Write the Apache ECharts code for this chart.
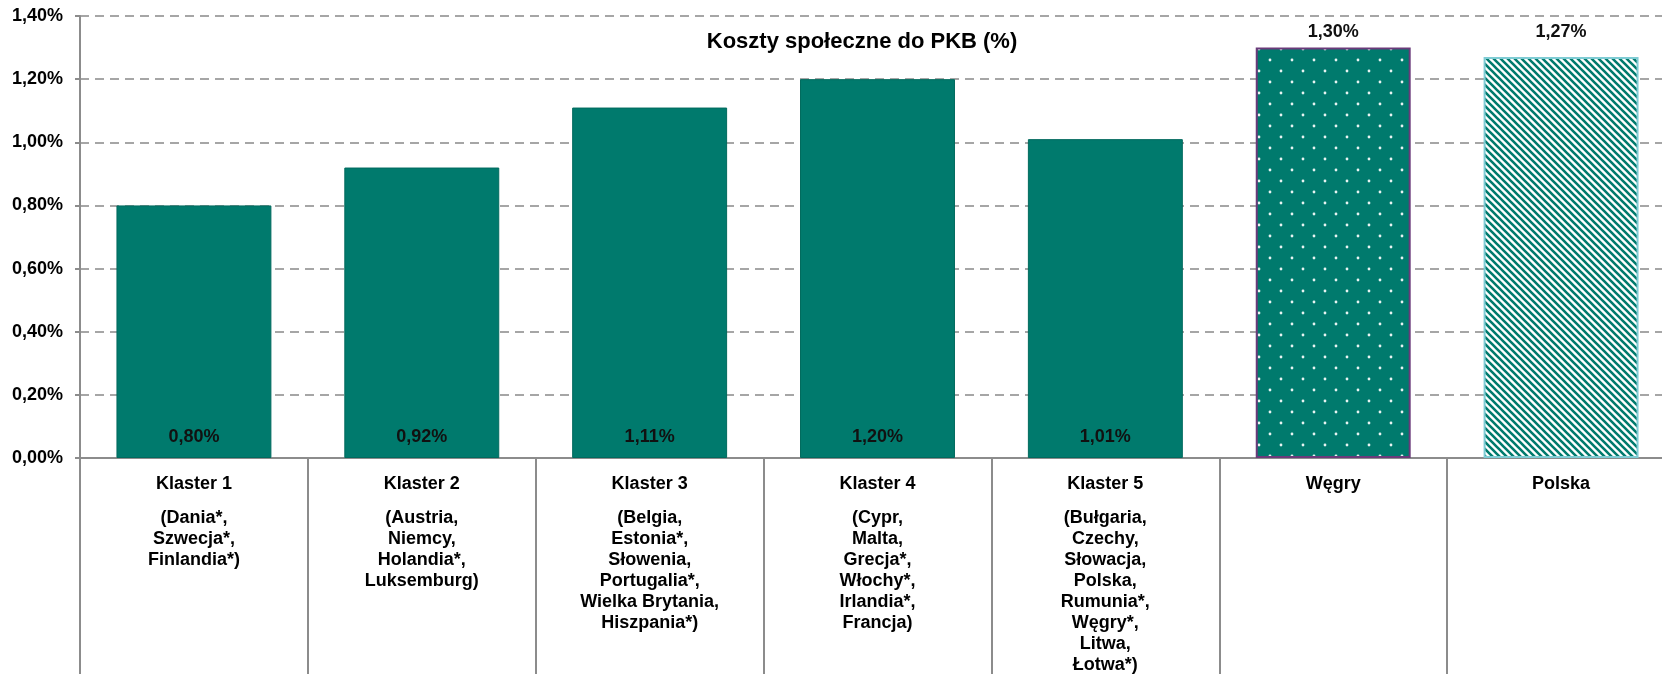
<!DOCTYPE html>
<html>
<head>
<meta charset="utf-8">
<script src="https://cdn.jsdelivr.net/npm/echarts@6/dist/echarts.min.js"></script>
<style>
  html, body { margin: 0; padding: 0; background: #fff; }
  #chart { width: 1662px; height: 674px; }
</style>
</head>
<body>
<div id="chart"></div>
<script>
const categories = ['Klaster 1', 'Klaster 2', 'Klaster 3', 'Klaster 4', 'Klaster 5', 'Węgry', 'Polska'];
const members = [
  ['(Dania*,', 'Szwecja*,', 'Finlandia*)'],
  ['(Austria,', 'Niemcy,', 'Holandia*,', 'Luksemburg)'],
  ['(Belgia,', 'Estonia*,', 'Słowenia,', 'Portugalia*,', 'Wielka Brytania,', 'Hiszpania*)'],
  ['(Cypr,', 'Malta,', 'Grecja*,', 'Włochy*,', 'Irlandia*,', 'Francja)'],
  ['(Bułgaria,', 'Czechy,', 'Słowacja,', 'Polska,', 'Rumunia*,', 'Węgry*,', 'Litwa,', 'Łotwa*)'],
  [],
  []
];
const values = [0.80, 0.92, 1.11, 1.20, 1.01, 1.30, 1.27];
const yTicks = [0, 0.2, 0.4, 0.6, 0.8, 1.0, 1.2, 1.4];

const FONT = 'Arial, "Liberation Sans", sans-serif';
const TEAL = '#007A6D';

// dotted fill for Węgry
function dotsPattern() {
  const c = document.createElement('canvas');
  c.width = 22; c.height = 22;
  const g = c.getContext('2d');
  g.fillStyle = TEAL;
  g.fillRect(0, 0, 22, 22);
  g.fillStyle = '#e8f4f2';
  [[5, 5], [16, 16]].forEach(function (p) {
    g.beginPath();
    g.arc(p[0], p[1], 1.4, 0, Math.PI * 2);
    g.fill();
  });
  return c;
}

// diagonal stripes for Polska
function stripesPattern() {
  const s = 7;
  const c = document.createElement('canvas');
  c.width = s; c.height = s;
  const g = c.getContext('2d');
  g.fillStyle = '#ffffff';
  g.fillRect(0, 0, s, s);
  g.strokeStyle = TEAL;
  g.lineWidth = 2.6;
  g.beginPath();
  g.moveTo(-1, -1); g.lineTo(s + 1, s + 1);
  g.moveTo(-1, s - 1); g.lineTo(1, s + 1);
  g.moveTo(s - 1, -1); g.lineTo(s + 1, 1);
  g.stroke();
  return c;
}

const fmt = v => v.toFixed(2).replace('.', ',') + '%';

const barData = values.map(function (v, i) {
  if (i === 5) {
    return {
      value: v,
      itemStyle: { color: { image: dotsPattern(), repeat: 'repeat' }, borderColor: '#6A3A7A', borderWidth: 2 },
      label: { position: 'top', distance: 7 }
    };
  }
  if (i === 6) {
    return {
      value: v,
      itemStyle: { color: { image: stripesPattern(), repeat: 'repeat' }, borderColor: '#7FCCD4', borderWidth: 2 },
      label: { position: 'top', distance: 16 }
    };
  }
  return { value: v };
});

const chart = echarts.init(document.getElementById('chart'));
chart.setOption({
  animation: false,
  title: {
    text: 'Koszty społeczne do PKB (%)',
    left: 857,
    top: 26,
    textAlign: 'center',
    textStyle: { fontFamily: FONT, fontSize: 22, fontWeight: 'bold', color: '#000' }
  },
  grid: { left: 80, right: -13, top: 16, bottom: 216, containLabel: false, outerBoundsMode: 'none' },
  xAxis: {
    type: 'category',
    data: categories,
    axisLine: { lineStyle: { color: '#8C8C8C', width: 2 } },
    axisTick: { show: true, interval: 0, length: 220, lineStyle: { color: '#8C8C8C', width: 2 } },
    axisLabel: {
      interval: 0,
      margin: 2,
      fontFamily: FONT,
      formatter: function (name, idx) {
        const lines = ['{h|' + name + '}'];
        members[idx].forEach(m => lines.push('{b|' + m + '}'));
        return lines.join('\n');
      },
      rich: {
        h: { fontFamily: FONT, fontSize: 18, fontWeight: 'bold', color: '#000', lineHeight: 48 },
        b: { fontFamily: FONT, fontSize: 18, fontWeight: 'bold', color: '#000', lineHeight: 21 }
      },
      verticalAlign: 'top'
    }
  },
  yAxis: {
    type: 'value',
    min: yTicks[0],
    max: yTicks[yTicks.length - 1],
    interval: 0.2,
    axisLine: { show: true, lineStyle: { color: '#8C8C8C', width: 2 } },
    axisTick: { show: true, length: 5, lineStyle: { color: '#8C8C8C', width: 2 } },
    axisLabel: {
      margin: 17,
      padding: [8, 0, 0, 0],
      fontFamily: FONT,
      fontSize: 18,
      fontWeight: 'bold',
      color: '#000',
      formatter: fmt
    },
    splitLine: { lineStyle: { color: '#A6A6A6', width: 2, type: [9, 6] } }
  },
  series: [{
    type: 'bar',
    data: barData,
    barCategoryGap: '32%',
    itemStyle: { color: TEAL, borderColor: '#006A5E', borderWidth: 1 },
    label: {
      show: true,
      position: 'insideBottom',
      distance: 12,
      fontFamily: FONT,
      fontSize: 18,
      fontWeight: 'bold',
      color: '#111',
      formatter: p => fmt(p.value)
    }
  }]
});
</script>
</body>
</html>
